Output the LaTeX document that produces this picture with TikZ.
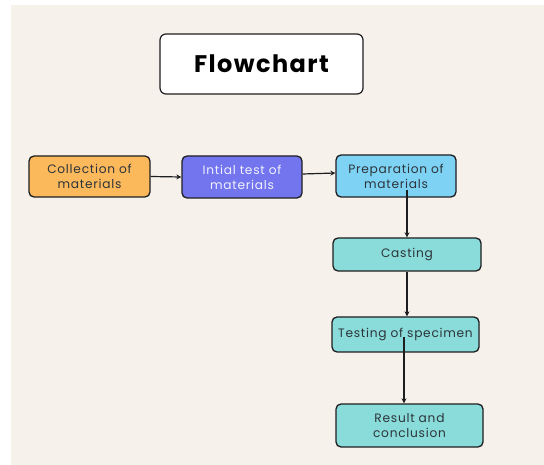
\documentclass[tikz,border=0pt]{standalone}
\usepackage{fontspec}
\setmainfont{Poppins}[LetterSpace=6]
\usepackage{tikz}
\usetikzlibrary{calc}
\usetikzlibrary{arrows.meta}
\usetikzlibrary{positioning}
\definecolor{paper}{RGB}{246, 242, 235}
\definecolor{apricot}{RGB}{252, 185, 92}
\definecolor{periwinkle}{RGB}{115, 117, 238}
\definecolor{skyblue}{RGB}{126, 211, 245}
\definecolor{aqua}{RGB}{137, 220, 217}
\definecolor{inkgray}{RGB}{45, 52, 58}
\definecolor{frame}{RGB}{30, 30, 32}

\tikzset{
    stagebox/.style = {draw=frame, line width=1.3pt, rounded corners=5pt, align=center,
                       font=\fontsize{12.2}{15}\selectfont, text=inkgray, inner sep=0pt},
    titlebox/.style = {draw=frame, line width=1.2pt, rounded corners=6pt, fill=white,
                       font=\fontsize{24}{28}\selectfont\bfseries, text=black,
                       minimum width=203pt, minimum height=60pt},
    flow/.style     = {draw=frame, line width=1.2pt, -{Stealth[length=5pt, width=5pt]}}
}

\begin{document}
\begin{tikzpicture}[x=1pt, y=-1pt]
            % Page & background
            \useasboundingbox                                                 (0, 0) rectangle (544, 465);
            \fill[color=paper]                                                (11, 5) rectangle (544, 465);
            % Title
            \node[titlebox]                                          (title)  at (261.5,  64.0) {Flowchart};
            % First row
            \node[stagebox, fill=apricot,    minimum width=121pt, minimum height=41pt]
                                                                     (coll)   at ( 89.5, 176.5) {Collection of\\materials};
            \node[stagebox, fill=periwinkle, minimum width=120pt, minimum height=42pt, text=white!90!periwinkle]
                                                                     (init)   at (242.0, 177.0) {Intial test of\\materials};
            \node[stagebox, fill=skyblue,    minimum width=120pt, minimum height=42pt]
                                                                     (prep)   at (396.0, 176.0) {Preparation of\\materials};
            % Column down the right
            \node[stagebox, fill=aqua,       minimum width=148pt, minimum height=33pt]
                                                                     (cast)   at (407.0, 254.5) {Casting};
            \node[stagebox, fill=aqua,       minimum width=147pt, minimum height=35pt]
                                                                     (test)   at (405.5, 334.5) {Testing of specimen};
            \node[stagebox, fill=aqua,       minimum width=147pt, minimum height=43pt]
                                                                     (res)    at (409.5, 425.5) {Result and\\conclusion};
            % Connectors
            \draw[flow] (coll.east)                                -- (init.west);
            \draw[flow] ([yshift=3pt]init.east)                    -- ([yshift=3pt]prep.west);
            \draw[flow] ([xshift=11pt, yshift=-14pt]prep.center)   -- (cast.north);
            \draw[flow] (cast.south)                               -- (cast.south |- test.north);
            \draw[flow] ([xshift=-1.5pt, yshift=-3pt]test.center)  -- ([xshift=-1.5pt]test.center |- res.north);
        \end{tikzpicture}
\end{document}
